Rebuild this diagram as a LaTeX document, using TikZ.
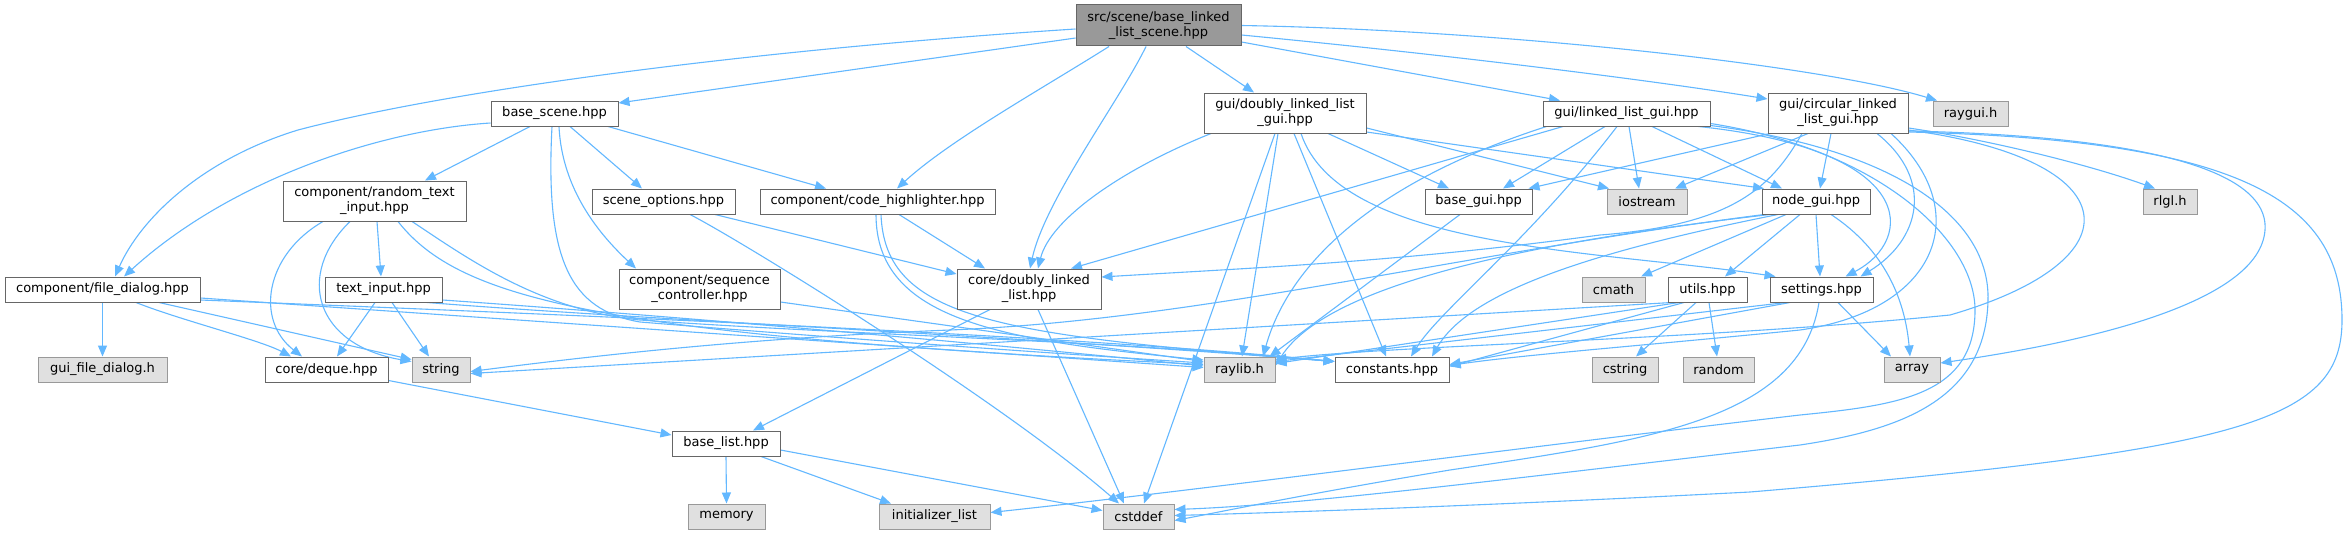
\documentclass[tikz,border=0pt]{standalone}
\usepackage{fontspec}
\setmainfont{DejaVu Sans}
\usetikzlibrary{arrows.meta}
\definecolor{edgec}{HTML}{63B8FF}
\definecolor{ndline}{HTML}{666666}
\definecolor{extline}{HTML}{999999}
\definecolor{extfill}{HTML}{E0E0E0}
\definecolor{rootfill}{HTML}{999999}
\pgfdeclarelayer{edgelayer}
\pgfsetlayers{edgelayer,main}
\begin{document}
\begin{tikzpicture}[x=1pt,y=-1pt,
 nd/.style={draw=ndline, fill=white, line width=1pt, inner sep=0pt, align=center, font=\fontsize{13}{15}\selectfont},
 ext/.style={nd, draw=extline, fill=extfill},
 rootnd/.style={nd, fill=rootfill},
 dep/.style={draw=edgec, line width=1.1pt, -{Triangle[length=11pt,width=9pt]}},
 hone/.style={minimum height=25pt},
 htwo/.style={minimum height=40pt}]
\useasboundingbox (0,0) rectangle (2349,535);

\node[rootnd, minimum width=165pt, minimum height=41pt] (root) at (1158.5,25.5) {src/scene/base\_linked\\\_list\_scene.hpp};
\node[nd,hone,minimum width=127pt] (bs) at (554.5,113.5) {base\_scene.hpp};
\node[nd,htwo,minimum width=162pt] (dllg) at (1285,113) {gui/doubly\_linked\_list\\\_gui.hpp};
\node[nd,hone,minimum width=167pt] (llg) at (1626.5,113.5) {gui/linked\_list\_gui.hpp};
\node[nd,htwo,minimum width=140pt] (cllg) at (1838,113) {gui/circular\_linked\\\_list\_gui.hpp};
\node[ext,hone,minimum width=75pt] (raygui) at (1970.5,113.5) {raygui.h};
\node[nd,htwo,minimum width=183pt] (rti) at (374.5,201) {component/random\_text\\\_input.hpp};
\node[nd,hone,minimum width=143pt] (so) at (663.5,201.5) {scene\_options.hpp};
\node[nd,hone,minimum width=235pt] (ch) at (877.5,201.5) {component/code\_highlighter.hpp};
\node[nd,hone,minimum width=107pt] (bg) at (1478.5,201.5) {base\_gui.hpp};
\node[ext,hone,minimum width=80pt] (ios) at (1647,201.5) {iostream};
\node[nd,hone,minimum width=108pt] (ng) at (1816,201.5) {node\_gui.hpp};
\node[ext,hone,minimum width=54pt] (rlgl) at (2170,201.5) {rlgl.h};
\node[nd,hone,minimum width=195pt] (fd) at (102.5,289.5) {component/file\_dialog.hpp};
\node[nd,hone,minimum width=117pt] (ti) at (383.5,289.5) {text\_input.hpp};
\node[nd,htwo,minimum width=161pt] (sc) at (699.5,289) {component/sequence\\\_controller.hpp};
\node[nd,htwo,minimum width=144pt] (cdll) at (1029,289) {core/doubly\_linked\\\_list.hpp};
\node[ext,hone,minimum width=63pt] (cmath) at (1613.5,289.5) {cmath};
\node[nd,hone,minimum width=79pt] (ut) at (1707.5,289.5) {utils.hpp};
\node[nd,hone,minimum width=103pt] (st) at (1821.5,289.5) {settings.hpp};
\node[ext,hone,minimum width=129pt] (gfd) at (102.5,369.5) {gui\_file\_dialog.h};
\node[nd,hone,minimum width=123pt] (dq) at (326.5,369.5) {core/deque.hpp};
\node[ext,hone,minimum width=58pt] (str) at (441,369.5) {string};
\node[ext,hone,minimum width=71pt] (rl) at (1239.5,369.5) {raylib.h};
\node[nd,hone,minimum width=114pt] (cst) at (1392,369.5) {constants.hpp};
\node[ext,hone,minimum width=66pt] (cstr) at (1625,369.5) {cstring};
\node[ext,hone,minimum width=71pt] (rnd) at (1718.5,369.5) {random};
\node[ext,hone,minimum width=56pt] (arr) at (1912,369.5) {array};
\node[nd,hone,minimum width=108pt] (bl) at (726,443.5) {base\_list.hpp};
\node[ext,hone,minimum width=77pt] (mem) at (726.5,516.5) {memory};
\node[ext,hone,minimum width=111pt] (il) at (934.5,516.5) {initializer\_list};
\node[ext,hone,minimum width=71pt] (cdef) at (1138.5,516.5) {cstddef};

\begin{pgfonlayer}{edgelayer}
\fill[white] (0,0) rectangle (2349,535);
% root
\draw[dep] ([yshift=-3.5pt]root.west) .. controls (750,50) and (450,90) .. (298,130) .. controls (200,160) and (140,220) .. ([xshift=12.5pt]fd.north);
\draw[dep] ([yshift=-12.5pt]root.west) -- ([yshift=10.5pt]bs.east);
\draw[dep] ([xshift=-49.5pt]root.south) .. controls (1040,90) and (950,140) .. ([xshift=19.5pt]ch.north);
\draw[dep] ([xshift=-12.5pt]root.south) .. controls (1120,100) and (1045,200) .. ([xshift=1pt]cdll.north);
\draw[dep] ([xshift=27.5pt]root.south) -- ([xshift=-31pt]dllg.north);
\draw[dep] ([yshift=-16.5pt]root.east) -- ([xshift=-66.5pt]llg.north);
\draw[dep] ([yshift=-9.5pt]root.east) .. controls (1450,55) and (1650,80) .. ([yshift=14pt]cllg.west);
\draw[dep] (root.east) .. controls (1500,30) and (1820,65) .. ([xshift=-33.5pt]raygui.north);
% base_scene
\draw[dep] ([yshift=-9.5pt]bs.west) .. controls (380,130) and (230,180) .. ([xshift=21.5pt]fd.north);
\draw[dep] ([xshift=-24.5pt]bs.south) -- ([xshift=50.5pt]rti.north);
\draw[dep] ([xshift=15.5pt]bs.south) -- ([xshift=-21.5pt]so.north);
\draw[dep] ([xshift=53.5pt]bs.south) -- ([xshift=-51.5pt]ch.north);
\draw[dep] ([xshift=4.5pt]bs.south) .. controls (562,190) and (600,235) .. ([xshift=-63.5pt]sc.north);
\draw[dep] ([xshift=-2.5pt]bs.south) .. controls (545,260) and (570,310) .. (640,322) .. controls (800,335) and (1000,350) .. ([yshift=6.5pt]rl.west);
% random_text_input
\draw[dep] ([xshift=-51.5pt]rti.south) .. controls (265,255) and (255,320) .. ([xshift=-24.5pt]dq.north);
\draw[dep] ([xshift=-24.5pt]rti.south) .. controls (295,275) and (315,345) .. ([yshift=8pt]str.west);
\draw[dep] ([xshift=2.5pt]rti.south) -- ([xshift=-2.5pt]ti.north);
\draw[dep] ([xshift=23.5pt]rti.south) .. controls (460,300) and (600,335) .. ([yshift=5pt]rl.west);
\draw[dep] ([xshift=37.5pt]rti.south) .. controls (470,260) and (540,310) .. (640,320) .. controls (850,335) and (1100,340) .. ([yshift=8pt]cst.west);
% text_input
\draw[dep] ([xshift=-8.5pt]ti.south) -- ([xshift=10.5pt]dq.north);
\draw[dep] ([xshift=8.5pt]ti.south) -- ([xshift=-12pt]str.north);
\draw[dep] ([yshift=-10.5pt]ti.east) .. controls (700,318) and (1000,345) .. ([yshift=3.5pt]rl.west);
\draw[dep] ([xshift=43.5pt]ti.south) .. controls (650,320) and (1000,335) .. ([yshift=8pt]cst.west);
% file_dialog
\draw[dep] (fd.south) -- (gfd.north);
\draw[dep] ([xshift=33.5pt]fd.south) .. controls (180,320) and (260,340) .. ([xshift=-35.5pt]dq.north);
\draw[dep] ([xshift=56.5pt]fd.south) -- ([yshift=10pt]str.west);
\draw[dep] ([yshift=-8.5pt]fd.east) -- ([yshift=2pt]rl.west);
\draw[dep] ([yshift=-10.5pt]fd.east) .. controls (700,320) and (1100,338) .. ([yshift=8pt]cst.west);
% scene_options
\draw[dep] ([xshift=51.5pt]so.south) -- ([yshift=15pt]cdll.west);
\draw[dep] ([xshift=26.5pt]so.south) .. controls (740,240) and (1000,400) .. ([xshift=-19.5pt]cdef.north);
% code_highlighter
\draw[dep] ([xshift=21.5pt]ch.south) -- ([xshift=-44pt]cdll.north);
\draw[dep] ([xshift=-1.5pt]ch.south) .. controls (876,320) and (1000,340) .. ([yshift=9.5pt]rl.west);
\draw[dep] ([xshift=3.5pt]ch.south) .. controls (885,320) and (1000,335) .. ([yshift=8pt]cst.west);
% sequence_controller
\draw[dep] ([yshift=-13pt]sc.east) -- ([yshift=8pt]rl.west);
% core/doubly_linked_list
\draw[dep] ([xshift=-39pt]cdll.south) -- ([xshift=27pt]bl.north);
\draw[dep] ([xshift=9pt]cdll.south) -- ([xshift=-14.5pt]cdef.north);
% deque
\draw[dep] ([yshift=-11pt]dq.east) -- ([yshift=8.5pt]bl.west);
% base_list
\draw[dep] (bl.south) -- (mem.north);
\draw[dep] ([xshift=35pt]bl.south) -- ([xshift=-43.5pt]il.north);
\draw[dep] ([yshift=-6.5pt]bl.east) -- ([yshift=6pt]cdef.west);
% gui/doubly_linked_list_gui
\draw[dep] ([xshift=-74pt]dllg.south) .. controls (1120,170) and (1050,220) .. ([xshift=9pt]cdll.north);
\draw[dep] ([xshift=-7pt]dllg.south) -- ([xshift=2.5pt]rl.north);
\draw[dep] ([xshift=-10pt]dllg.south) -- ([xshift=5.5pt]cdef.north);
\draw[dep] ([xshift=9pt]dllg.south) -- ([xshift=-6pt]cst.north);
\draw[dep] ([xshift=16pt]dllg.south) .. controls (1340,250) and (1600,250) .. ([xshift=-46pt]st.north);
\draw[dep] ([xshift=43pt]dllg.south) -- ([xshift=-29.5pt]bg.north);
\draw[dep] ([yshift=-15pt]dllg.east) -- ([xshift=-38pt]ios.north);
\draw[dep] ([yshift=-19pt]dllg.east) -- ([xshift=-52pt]ng.north);
% gui/linked_list_gui
\draw[dep] ([xshift=-63.5pt]llg.south) -- ([xshift=42pt]cdll.north);
\draw[dep] ([xshift=-80pt]llg.south) .. controls (1380,180) and (1290,260) .. ([xshift=23.5pt]rl.north);
\draw[dep] ([xshift=-21.5pt]llg.south) -- ([xshift=24.5pt]bg.north);
\draw[dep] ([xshift=-9.5pt]llg.south) .. controls (1530,240) and (1440,310) .. ([xshift=19pt]cst.north);
\draw[dep] ([xshift=2.5pt]llg.south) -- ([xshift=-8pt]ios.north);
\draw[dep] ([xshift=25.5pt]llg.south) -- ([xshift=-34pt]ng.north);
\draw[dep] ([xshift=72pt]llg.south) .. controls (1920,150) and (1915,240) .. ([xshift=24pt]st.north);
\draw[dep] ([yshift=-10pt]llg.east) .. controls (1880,150) and (1975,240) .. (1975,310) .. controls (1975,395) and (1900,405) .. (1800,415) .. controls (1500,450) and (1200,490) .. ([yshift=4pt]il.east);
\draw[dep] ([yshift=-12pt]llg.east) .. controls (1900,150) and (1990,220) .. (1988,300) .. controls (1986,400) and (1900,430) .. (1800,445) .. controls (1500,480) and (1300,505) .. ([yshift=7pt]cdef.east);
% gui/circular_linked_list_gui
\draw[dep] ([xshift=-36pt]cllg.south) .. controls (1770,190) and (1730,225) .. (1600,235) .. controls (1400,262) and (1250,268) .. ([yshift=12pt]cdll.east);
\draw[dep] ([xshift=-68pt]cllg.south) -- ([xshift=-4pt]bg.north east);
\draw[dep] ([xshift=-30pt]cllg.south) -- ([xshift=28pt]ios.north);
\draw[dep] ([xshift=-7pt]cllg.south) -- ([xshift=4pt]ng.north);
\draw[dep] ([xshift=39pt]cllg.south) .. controls (1935,180) and (1920,240) .. ([xshift=39pt]st.north);
\draw[dep] ([yshift=-15pt]cllg.east) .. controls (1990,140) and (2090,165) .. ([xshift=-15pt]rlgl.north);
\draw[dep] ([yshift=-18pt]cllg.east) .. controls (2100,135) and (2270,160) .. (2265,230) .. controls (2260,300) and (2100,340) .. ([yshift=6.5pt]arr.east);
\draw[dep] ([yshift=-19pt]cllg.east) .. controls (2240,140) and (2342,200) .. (2342,320) .. controls (2342,420) and (2250,450) .. (1750,492) .. controls (1500,505) and (1300,512) .. ([yshift=1pt]cdef.east);
\draw[dep] ([xshift=53pt]cllg.south) .. controls (1975,210) and (1940,310) .. (1800,330) .. controls (1650,345) and (1520,355) .. ([yshift=4pt]cst.east);
\draw[dep] ([yshift=-17pt]cllg.east) .. controls (2130,160) and (2140,260) .. (1950,315) .. controls (1700,340) and (1400,345) .. ([yshift=10pt]rl.east);
% base_gui
\draw[dep] ([xshift=-18.5pt]bg.south) -- ([xshift=30pt]rl.north);
% node_gui
\draw[dep] ([xshift=-30pt]ng.south) -- ([xshift=27.5pt]cmath.north);
\draw[dep] ([xshift=-16pt]ng.south) -- ([xshift=17.5pt]ut.north);
\draw[dep] (ng.south) -- ([xshift=-1.5pt]st.north);
\draw[dep] ([xshift=15pt]ng.south) .. controls (1885,250) and (1905,300) .. ([xshift=-2pt]arr.north);
\draw[dep] ([xshift=-46pt]ng.south) .. controls (1550,240) and (1330,280) .. ([yshift=4pt]rl.east);
\draw[dep] ([xshift=-38pt]ng.south) .. controls (1600,250) and (1470,290) .. ([xshift=40pt]cst.north);
\draw[dep] ([xshift=-52pt]ng.south) .. controls (1450,255) and (1200,320) .. (950,330) .. controls (750,338) and (600,355) .. ([yshift=-2pt]str.east);
% utils
\draw[dep] ([xshift=-11.5pt]ut.south) -- ([xshift=11pt]cstr.north);
\draw[dep] ([xshift=1.5pt]ut.south) -- ([xshift=-1.5pt]rnd.north);
\draw[dep] ([xshift=-28.5pt]ut.south) -- ([yshift=6pt]rl.east);
\draw[dep] ([xshift=-23.5pt]ut.south) -- ([yshift=3pt]cst.east);
\draw[dep] ([xshift=-36pt]ut.south) -- ([yshift=-4pt]str.east);
% settings
\draw[dep] ([xshift=16.5pt]st.south) -- ([xshift=-21pt]arr.north);
\draw[dep] ([xshift=-2.5pt]st.south) .. controls (1800,420) and (1650,440) .. (1450,470) .. controls (1300,495) and (1220,512) .. ([yshift=-4pt]cdef.east);
\draw[dep] ([xshift=-35.5pt]st.south) -- ([yshift=8pt]rl.east);
\draw[dep] ([xshift=-31.5pt]st.south) -- ([yshift=5pt]cst.east);
\end{pgfonlayer}
\end{tikzpicture}
\end{document}
